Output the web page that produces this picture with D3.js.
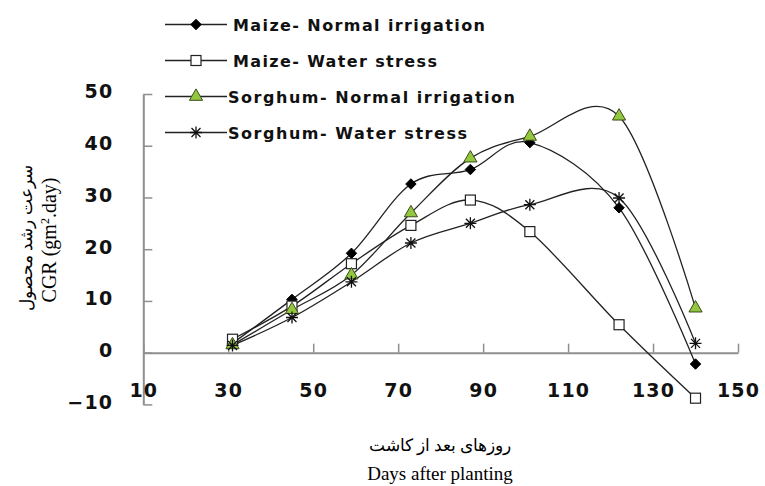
<!DOCTYPE html>
<html><head><meta charset="utf-8">
<script src="https://cdn.jsdelivr.net/npm/d3@7"></script>
<style>body{margin:0;background:#fff}svg{display:block}</style>
</head><body><div id="c"></div>
<script>
const days = [31, 45, 59, 73, 87, 101, 122, 140];
const maizeNormal   = [1.8, 10.3, 19.2, 32.6, 35.4, 40.6, 28.0, -2.2];
const maizeStress   = [2.6, 9.0, 17.2, 24.6, 29.5, 23.4, 5.4, -8.8];
const sorghumNormal = [1.5, 8.3, 15.0, 27.0, 37.6, 41.8, 45.7, 8.6];
const sorghumStress = [1.4, 6.8, 13.7, 21.2, 25.0, 28.6, 29.9, 1.8];
const seriesNames = ["Maize- Normal irrigation", "Maize- Water stress", "Sorghum- Normal irrigation", "Sorghum- Water stress"];
const xTicks = [10, 30, 50, 70, 90, 110, 130, 150];
const yTicks = [-10, 0, 10, 20, 30, 40, 50];

const W = 765, H = 486;
const svg = d3.select("#c").append("svg").attr("width", W).attr("height", H);
const x = d3.scaleLinear().domain([10, 150]).range([143.3, 738]);
const y = d3.scaleLinear().domain([-10, 50]).range([404.4, 94]);
const axisColor = "#8f8f8f";
const tickFont = "'DejaVu Sans', sans-serif";

// Y axis
const yAx = svg.append("g").attr("transform", `translate(${x(10)},0)`)
  .call(d3.axisLeft(y).tickValues(yTicks).tickSizeInner(-9).tickSizeOuter(0).tickPadding(30));
yAx.select(".domain").attr("stroke", axisColor).attr("stroke-width", 2);
yAx.selectAll(".tick line").attr("stroke", axisColor).attr("stroke-width", 1.5);
yAx.selectAll(".tick text").attr("font-family", tickFont).attr("font-weight", "bold")
  .attr("font-size", 19).attr("letter-spacing", 1.2).attr("fill", "#111").attr("dy", "0.2em");

// X axis at y=0
const xAx = svg.append("g").attr("transform", `translate(0,${y(0)})`)
  .call(d3.axisBottom(x).tickValues(xTicks).tickSizeInner(-9).tickSizeOuter(0).tickPadding(31));
xAx.select(".domain").attr("stroke", axisColor).attr("stroke-width", 2);
xAx.selectAll(".tick line").attr("stroke", axisColor).attr("stroke-width", 1.5);
xAx.selectAll(".tick text").attr("font-family", tickFont).attr("font-weight", "bold")
  .attr("font-size", 19).attr("letter-spacing", 1.2).attr("fill", "#111");

// Lines
const line = d3.line().x((d, i) => x(days[i])).y(d => y(d)).curve(d3.curveCatmullRom.alpha(0));
const data = [maizeNormal, maizeStress, sorghumNormal, sorghumStress];
const g = svg.append("g");
data.forEach(s => {
  g.append("path").attr("d", line(s)).attr("fill", "none").attr("stroke", "#222").attr("stroke-width", 1.3);
});

// Marker drawing
const green = "#93c83e";
function marker(sel, type, cx, cy) {
  if (type === 0) {
    sel.append("path").attr("d", d3.symbol(d3.symbolDiamond2, 70)()).attr("transform", `translate(${cx},${cy})`)
      .attr("fill", "#000").attr("stroke", "#000").attr("stroke-width", 1);
  } else if (type === 1) {
    sel.append("rect").attr("x", cx - 5).attr("y", cy - 5).attr("width", 10).attr("height", 10)
      .attr("fill", "#fff").attr("stroke", "#222").attr("stroke-width", 1.2);
  } else if (type === 2) {
    sel.append("path").attr("d", d3.symbol(d3.symbolTriangle, 75)()).attr("transform", `translate(${cx},${cy})`)
      .attr("fill", green).attr("stroke", "#3a4a1a").attr("stroke-width", 1);
  } else {
    const r = 6;
    const p = `M${-r},0L${r},0M0,${-r}L0,${r}M${-r*0.75},${-r*0.75}L${r*0.75},${r*0.75}M${-r*0.75},${r*0.75}L${r*0.75},${-r*0.75}`;
    sel.append("path").attr("d", p).attr("transform", `translate(${cx},${cy})`)
      .attr("stroke", "#111").attr("stroke-width", 1.3).attr("fill", "none");
  }
}
const mg = svg.append("g");
data.forEach((s, k) => s.forEach((v, i) => marker(mg, k, x(days[i]), y(v))));

// Legend
const legY = [24.5, 60.5, 96.5, 132.5];
const legTextX = [233, 233, 228, 228];
const legTextW = [252, 204, 287, 239];
const lg = svg.append("g");
seriesNames.forEach((n, k) => {
  lg.append("line").attr("x1", 165).attr("x2", 227).attr("y1", legY[k]).attr("y2", legY[k])
    .attr("stroke", "#222").attr("stroke-width", 1.3);
  marker(lg, k, 196, legY[k]);
  lg.append("text").attr("x", legTextX[k]).attr("y", legY[k] + 6).text(n)
    .attr("font-family", tickFont).attr("font-weight", "bold").attr("font-size", 16)
    .attr("textLength", legTextW[k]).attr("lengthAdjust", "spacing").attr("fill", "#111");
});

// Axis titles
const serif = "'Liberation Serif', 'Times New Roman', serif";
svg.append("text").attr("x", 440).attr("y", 451).attr("text-anchor", "middle")
  .attr("font-family", serif).attr("font-size", 17).attr("direction", "rtl").text("روزهای بعد از کاشت");
svg.append("text").attr("x", 440).attr("y", 480).attr("text-anchor", "middle")
  .attr("font-family", serif).attr("font-size", 19).text("Days after planting");

svg.append("text").attr("transform", "translate(32,238) rotate(-90)").attr("text-anchor", "middle")
  .attr("font-family", serif).attr("font-size", 17).text("سرعت رشد محصول");
const cgr = svg.append("text").attr("transform", "translate(56,240) rotate(-90)").attr("text-anchor", "middle")
  .attr("font-family", serif).attr("font-size", 20);
cgr.append("tspan").text("CGR (gm");
cgr.append("tspan").attr("baseline-shift", "super").attr("font-size", 12).text("2");
cgr.append("tspan").text(".day)");
</script></body></html>
